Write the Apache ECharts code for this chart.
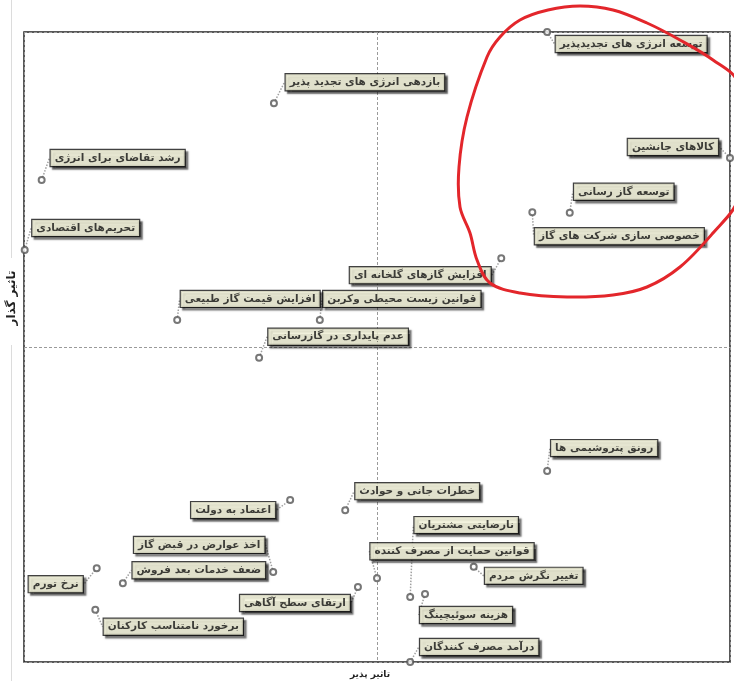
<!DOCTYPE html>
<html>
<head>
<meta charset="utf-8">
<script src="https://cdn.jsdelivr.net/npm/echarts@6/dist/echarts.min.js"></script>
<style>
html,body{margin:0;padding:0;background:#fff;}
#chart{width:734px;height:681px;}
</style>
</head>
<body>
<div id="chart"></div>
<script>
// Factor names
var factors = [
  'توسعه انرژی های تجدیدپذیر',
  'کالاهای جانشین',
  'توسعه گاز رسانی',
  'خصوصی سازی شرکت های گاز',
  'افزایش گازهای گلخانه ای',
  'قوانین زیست محیطی وکربن',
  'افزایش قیمت گاز طبیعی',
  'عدم پایداری در گازرسانی',
  'بازدهی انرژی های تجدید پذیر',
  'رشد تقاضای برای انرژی',
  'تحریم‌های اقتصادی',
  'رونق پتروشیمی ها',
  'خطرات جانی و حوادث',
  'نارضایتی مشتریان',
  'قوانین حمایت از مصرف کننده',
  'تغییر نگرش مردم',
  'هزینه سوئیچینگ',
  'درآمد مصرف کنندگان',
  'اعتماد به دولت',
  'اخذ عوارض در قبض گاز',
  'ضعف خدمات بعد فروش',
  'نرخ تورم',
  'ارتقای سطح آگاهی',
  'برخورد نامتناسب کارکنان'
];
// x: influenceability (تاثیر پذیر), y: influence (تاثیر گذار), scale 0..10
var influenceability = [7.41, 10.0, 7.73, 7.20, 6.76, 4.19, 2.17, 3.33, 3.54, 0.25, 0.01, 7.41, 4.55, 5.47, 5.00, 6.37, 5.68, 5.47, 3.77, 3.53, 1.40, 1.03, 4.73, 1.01];
var influence        = [10.0, 8.00, 7.13, 7.14, 6.41, 5.43, 5.43, 4.83, 8.87, 7.65, 6.54, 3.03, 2.41, 1.03, 1.33, 1.51, 1.08, 0.00, 2.57, 1.43, 1.25, 1.49, 1.19, 0.83];

// label box offsets (layout only), px from the point
var labelDx = [84, -57, 54, 87, -81, 82, 73, 79, 91, 76, 61, 57, 72, 56, 75, 60, 41, 69, -57, -74, 76, -41, -63, 78];
var labelDy = [12, -11, -21, 24, 17, -21, -21, -21, -21, -22, -22, -23, -19, -72, -27, 9, 21, -15, 10, -27, -13, 16, 16, 17];

var points = factors.map(function (n, i) {
  return { name: n, value: [influenceability[i], influence[i]] };
});

var loop = [[548,10],[580,6],[613,10],[647,23],[680,40],[713,60],[738,82],[748,140],[738,200],[713,233],[680,267],[647,287],[613,295],[567,297],[520,293],[490,283],[477,260],[470,233],[460,207],[459,167],[467,117],[487,57],[500,37],[520,20]];

var chart = echarts.init(document.getElementById('chart'));
chart.setOption({
  animation: false,
  grid: { left: 24, right: 4, top: 32, bottom: 19, show: true, borderColor: '#222', borderWidth: 1.5, backgroundColor: 'transparent' },
  xAxis: {
    type: 'value', min: 0, max: 10, interval: 5,
    axisLine: { show: false }, axisTick: { show: false }, axisLabel: { show: false },
    splitLine: { show: true, lineStyle: { color: '#9a9a9a', type: [3, 2], width: 1 } }
  },
  yAxis: {
    type: 'value', min: 0, max: 10, interval: 5,
    axisLine: { show: false }, axisTick: { show: false }, axisLabel: { show: false },
    splitLine: { show: true, lineStyle: { color: '#9a9a9a', type: [3, 2], width: 1 } }
  },
  series: [{
    type: 'scatter',
    clip: false,
    data: points,
    symbol: 'emptyCircle',
    symbolSize: 6,
    itemStyle: { color: '#555', borderColor: '#555', borderWidth: 1.5 },
    label: {
      show: true,
      formatter: '{b}',
      fontFamily: 'DejaVu Sans',
      fontWeight: 'bold',
      fontSize: 10.5,
      color: '#111',
      backgroundColor: '#fdfde2',
      borderColor: '#111',
      borderWidth: 1.2,
      padding: [3, 4, 2, 4],
      shadowColor: 'rgba(0,0,0,0.7)',
      shadowBlur: 1.5,
      shadowOffsetX: 2.5,
      shadowOffsetY: 2.5
    },
    labelLine: { show: true, lineStyle: { color: '#a0a0a0', width: 1.5, type: 'dotted' } },
    labelLayout: function (p) {
      var i = p.dataIndex;
      return {
        x: p.rect.x + p.rect.width / 2 + labelDx[i],
        y: p.rect.y + p.rect.height / 2 + labelDy[i],
        align: 'center', verticalAlign: 'middle', hideOverlap: false
      };
    }
  }],
  graphic: [
    { type: 'line', shape: { x1: 11.5, y1: 0, x2: 11.5, y2: 258 }, style: { stroke: '#dcdcdc', lineWidth: 1 } },
    { type: 'line', shape: { x1: 11.5, y1: 345, x2: 11.5, y2: 681 }, style: { stroke: '#dcdcdc', lineWidth: 1 } },
    { type: 'text', x: 12, y: 298, rotation: Math.PI / 2,
      style: { text: 'تاثیر گذار', font: 'bold 12px "DejaVu Sans"', fill: '#222', align: 'center', verticalAlign: 'middle' } },
    { type: 'text', x: 370, y: 675,
      style: { text: 'تاثیر پذیر', font: 'bold 9px "DejaVu Sans"', fill: '#222', align: 'center', verticalAlign: 'middle' } },
    { type: 'polygon', z: 100, shape: { points: loop, smooth: 0.35 },
      style: { fill: 'none', stroke: '#e3262b', lineWidth: 3 } }
  ]
});
</script>
</body>
</html>
